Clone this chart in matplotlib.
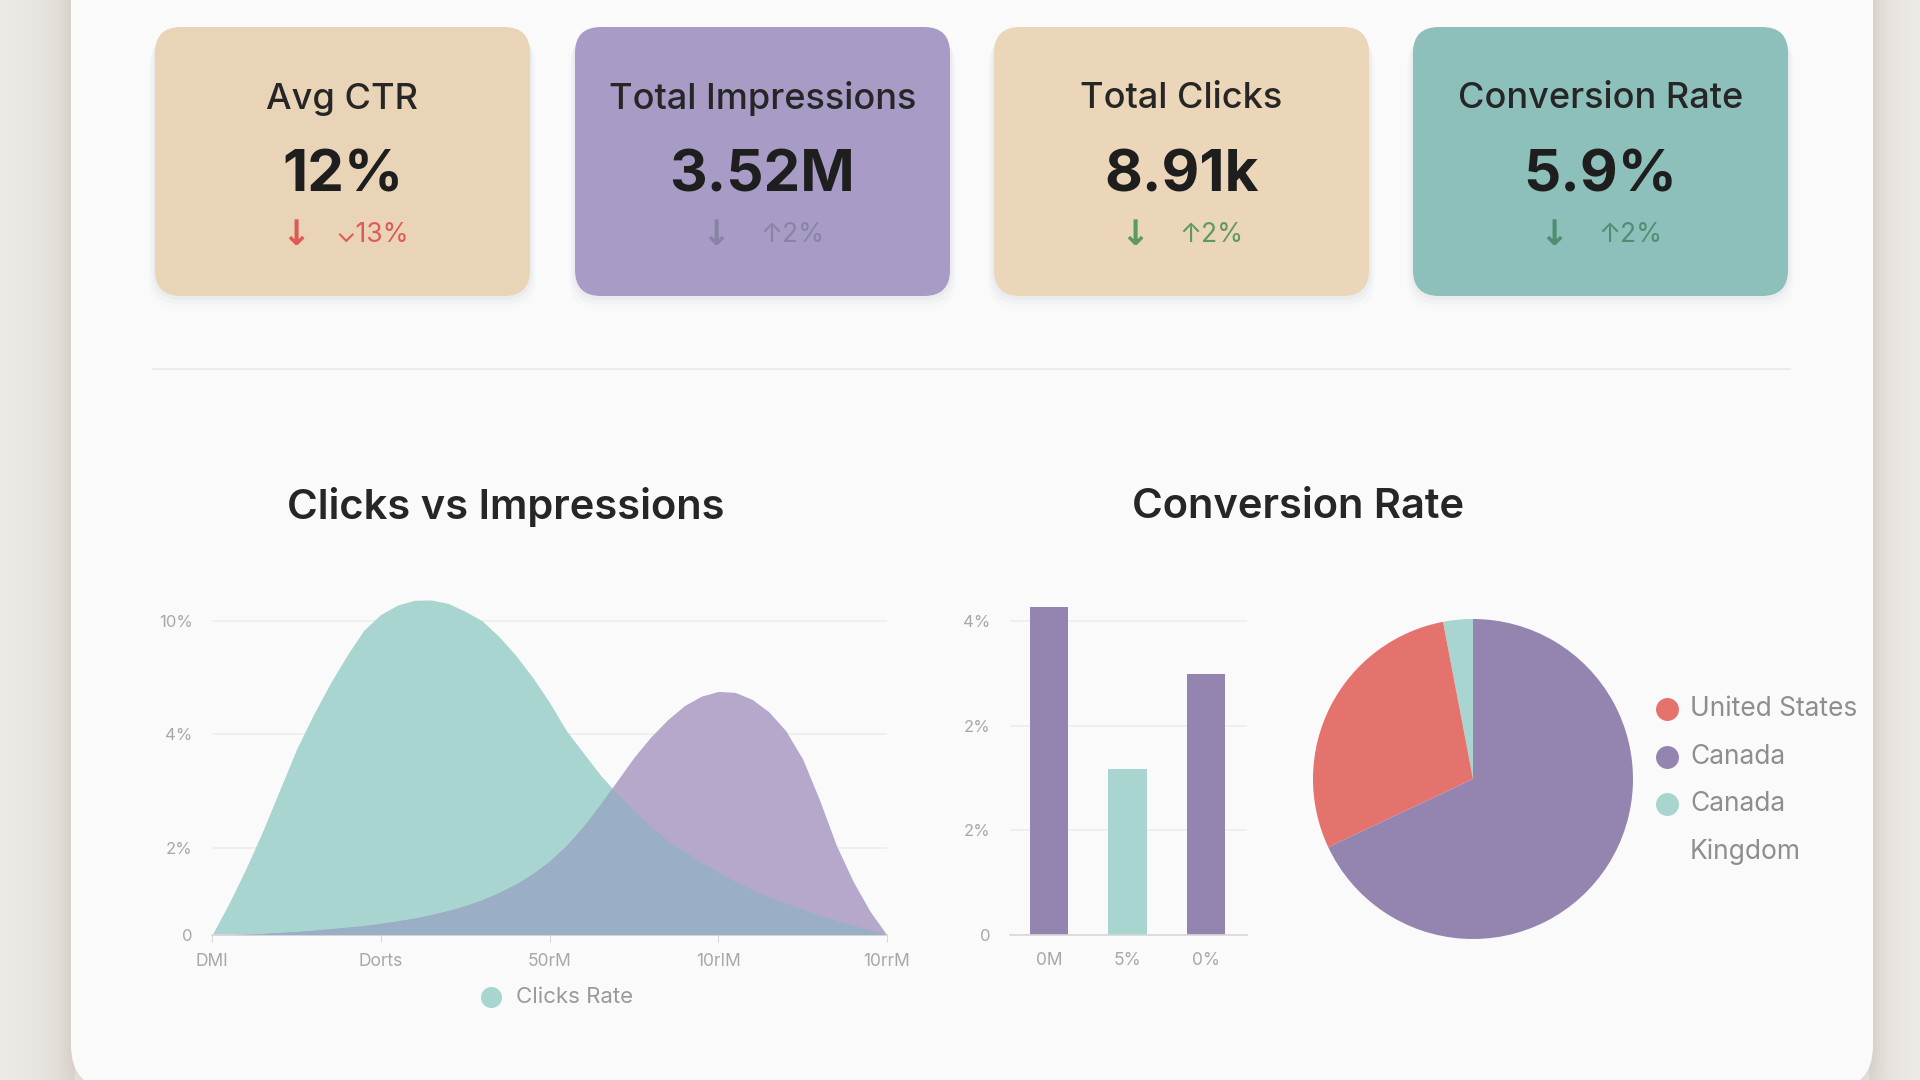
import matplotlib
matplotlib.use('Agg')
import matplotlib.pyplot as plt
from matplotlib.patches import FancyBboxPatch
from matplotlib.colors import LinearSegmentedColormap
import numpy as np

plt.rcParams['font.family'] = ['Inter', 'DejaVu Sans']

W, H = 1920, 1080

# KPI cards
kpi_titles = ['Avg CTR', 'Total Impressions', 'Total Clicks', 'Conversion Rate']
kpi_values = ['12%', '3.52M', '8.91k', '5.9%']
kpi_arrows = ['↓', '↓', '↓', '↓']
kpi_deltas = ['⌄13%', '↑2%', '↑2%', '↑2%']
kpi_colors = ['#EAD4B7', '#A89CC6', '#ECD6B9', '#8DC0BB']
kpi_delta_colors = ['#E05A55', '#8784A6', '#5C9A5E', '#4E8E72']

# Clicks vs Impressions (area chart)
area_x = [0.0, 0.1, 0.2, 0.3, 0.4, 0.5, 0.6, 0.7, 0.8, 0.9,
          1.0, 1.1, 1.2, 1.3, 1.4, 1.5, 1.6, 1.7, 1.8, 1.9,
          2.0, 2.1, 2.2, 2.3, 2.4, 2.5, 2.6, 2.7, 2.8, 2.9,
          3.0, 3.1, 3.2, 3.3, 3.4, 3.5, 3.6, 3.7, 3.8, 3.9, 4.0]
clicks = [0, 1.0, 2.1, 3.3, 4.6, 5.9, 7.0, 8.0, 8.9, 9.7,
          10.2, 10.5, 10.65, 10.66, 10.55, 10.3, 10.0, 9.5, 8.9, 8.2,
          7.4, 6.5, 5.8, 5.1, 4.5, 3.95, 3.45, 3.0, 2.65, 2.3,
          2.0, 1.7, 1.45, 1.2, 1.0, 0.8, 0.62, 0.45, 0.3, 0.15, 0]
impressions = [0, 0.01, 0.03, 0.05, 0.08, 0.11, 0.15, 0.2, 0.25, 0.3,
               0.37, 0.45, 0.54, 0.65, 0.78, 0.93, 1.12, 1.35, 1.62, 1.95,
               2.35, 2.85, 3.45, 4.15, 4.9, 5.65, 6.3, 6.85, 7.3, 7.6,
               7.75, 7.72, 7.5, 7.1, 6.5, 5.6, 4.3, 2.85, 1.7, 0.75, 0]
area_xticklabels = ['DMI', 'Dorts', '50rM', '10rIM', '10rrM']
area_yticks = [0, 2.76, 6.38, 10]
area_yticklabels = ['0', '2%', '4%', '10%']

# Conversion Rate (bars)
bar_labels = ['0M', '5%', '0%']
bar_values = [3.14, 1.59, 2.5]
bar_colors = ['#9485B0', '#A8D5D0', '#9485B0']
bar_yticklabels = ['0', '2%', '2%', '4%']

# Conversion Rate (pie)
pie_labels = ['United States', 'Canada', 'Canada\nKingdom']
pie_shares = [29, 68, 3]
pie_colors = ['#E4736E', '#9485B0', '#A8D5D0']

TEAL = '#A9D5D1'
PURPLE = '#B5A8CB'
OVERLAP = '#9AAEC6'
TICK_COLOR = '#A8A8A8'
GRID_COLOR = '#EDEDED'

fig = plt.figure(figsize=(19.2, 10.8), dpi=100)
fig.patch.set_facecolor('#E8E4DF')

bg = fig.add_axes([0, 0, 1, 1])
bg.set_xlim(0, W)
bg.set_ylim(H, 0)
bg.axis('off')

# soft gradient on the backdrop strips
grad = LinearSegmentedColormap.from_list('bd', ['#EEEBE7', '#E9E5E0', '#DDD7D0'])
bg.imshow(np.linspace(0, 1, 100).reshape(1, -1), cmap=grad, aspect='auto',
          extent=(0, 75, H, 0), zorder=0)
bg.imshow(np.linspace(1, 0, 100).reshape(1, -1), cmap=grad, aspect='auto',
          extent=(1869, W, H, 0), zorder=0)
bg.set_xlim(0, W)
bg.set_ylim(H, 0)

# panel shadow + panel
for off, a in [(12, 0.05), (7, 0.07), (3, 0.09)]:
    bg.add_patch(FancyBboxPatch((71 - off, -60), 1802 + 2 * off, 1150 + off,
                                boxstyle='round,pad=0,rounding_size=48',
                                fc='#C9C1B8', ec='none', alpha=a, zorder=1))
bg.add_patch(FancyBboxPatch((71, -60), 1802, 1150,
                            boxstyle='round,pad=0,rounding_size=45',
                            fc='#FAFAFA', ec='none', zorder=1))

# KPI cards
card_x = [155, 575, 994, 1413]
card_w, card_h, card_y = 375, 269, 27
for i in range(4):
    x0 = card_x[i]
    for off, a in [(12, 0.035), (8, 0.05), (4, 0.07)]:
        bg.add_patch(FancyBboxPatch((x0 - off / 2, card_y + off), card_w + off, card_h,
                                    boxstyle='round,pad=0,rounding_size=28',
                                    fc='#9AA6B8', ec='none', alpha=a, zorder=2))
    bg.add_patch(FancyBboxPatch((x0, card_y), card_w, card_h,
                                boxstyle='round,pad=0,rounding_size=26',
                                fc=kpi_colors[i], ec='none', zorder=2))
    cx = x0 + card_w / 2
    bg.text(cx, 99, kpi_titles[i], ha='center', va='center', fontsize=26,
            fontweight='medium', color='#262626', zorder=3)
    bg.text(cx, 177, kpi_values[i], ha='center', va='center', fontsize=42,
            fontweight='bold', color='#1E1E1E', zorder=3)
    bg.text(cx - 47, 235, kpi_arrows[i], ha='center', va='center', fontsize=25,
            fontweight='bold', color=kpi_delta_colors[i],
            family=['DejaVu Sans'], zorder=3)
    bg.text(cx + 30, 235, kpi_deltas[i], ha='center', va='center', fontsize=19,
            color=kpi_delta_colors[i], family=['Inter', 'DejaVu Sans'], zorder=3)

# divider
bg.plot([153, 1790], [369, 369], color='#EBEBEB', lw=1.5, zorder=2)

# chart titles
bg.text(506, 507, 'Clicks vs Impressions', ha='center', va='center', fontsize=30,
        fontweight='semibold', color='#262626', zorder=3)
bg.text(1298, 507, 'Conversion Rate', ha='center', va='center', fontsize=30,
        fontweight='semibold', color='#262626', zorder=3)


def px_axes(x0, y0, x1, y1):
    return fig.add_axes([x0 / W, 1 - y1 / H, (x1 - x0) / W, (y1 - y0) / H])


def style_axes(ax):
    ax.set_facecolor('none')
    for s in ['top', 'right', 'left']:
        ax.spines[s].set_visible(False)
    ax.spines['bottom'].set_color('#D8D8D8')
    ax.spines['bottom'].set_linewidth(1.2)
    ax.tick_params(axis='y', length=0, pad=14, labelcolor=TICK_COLOR, labelsize=12)
    ax.tick_params(axis='x', length=5, color='#D8D8D8', pad=8,
                   labelcolor=TICK_COLOR, labelsize=12.5)
    ax.grid(axis='y', color=GRID_COLOR, lw=1.2)
    ax.set_axisbelow(True)


# area chart
ax1 = px_axes(212, 583, 887, 935)
style_axes(ax1)
ax1.set_xlim(0, 4)
ax1.set_ylim(0, 11.2)
teal_fill = ax1.fill_between(area_x, 0, clicks, color=TEAL, lw=0, zorder=2)
ax1.fill_between(area_x, 0, impressions, color=PURPLE, lw=0, zorder=2)
ov = ax1.fill_between(area_x, 0, impressions, color=OVERLAP, lw=0, zorder=3)
ov.set_clip_path(teal_fill.get_paths()[0], ax1.transData)
ax1.set_xticks(range(len(area_xticklabels)))
ax1.set_xticklabels(area_xticklabels)
ax1.set_yticks(area_yticks)
ax1.set_yticklabels(area_yticklabels)

# area legend
bg.scatter([491], [997], s=200, color=TEAL, zorder=5)
bg.text(516, 997, 'Clicks Rate', ha='left', va='center', fontsize=16,
        color='#9A9A9A', zorder=5)

# bar chart
ax2 = px_axes(1010, 590, 1247, 935)
style_axes(ax2)
ax2.tick_params(axis='x', length=0, pad=12)
bx = np.arange(len(bar_values))
ax2.bar(bx, bar_values, width=0.49, color=bar_colors, zorder=2)
ax2.set_xlim(-0.5, 2.52)
ax2.set_ylim(0, 3.3)
ax2.set_xticks(bx)
ax2.set_xticklabels(bar_labels)
ax2.set_yticks(range(len(bar_yticklabels)))
ax2.set_yticklabels(bar_yticklabels)

# pie chart
ax3 = px_axes(1305, 611, 1641, 947)
order = [2, 0, 1]
ax3.pie([pie_shares[k] for k in order], colors=[pie_colors[k] for k in order],
        startangle=90, counterclock=True, radius=1,
        wedgeprops=dict(linewidth=0))
ax3.set_xlim(-1.05, 1.05)
ax3.set_ylim(-1.05, 1.05)
ax3.set_aspect('equal')

# pie legend
ly = 709
for lab, col in zip(pie_labels, pie_colors):
    bg.scatter([1667], [ly], s=240, color=col, zorder=5)
    lines = lab.split('\n')
    for j, ln in enumerate(lines):
        bg.text(1690, ly + j * 47.5, ln, ha='left', va='center', fontsize=19,
                color='#8E8E8E', zorder=5)
    ly += 47.5 * len(lines)

fig.savefig('out.png', dpi=100, facecolor=fig.get_facecolor())
